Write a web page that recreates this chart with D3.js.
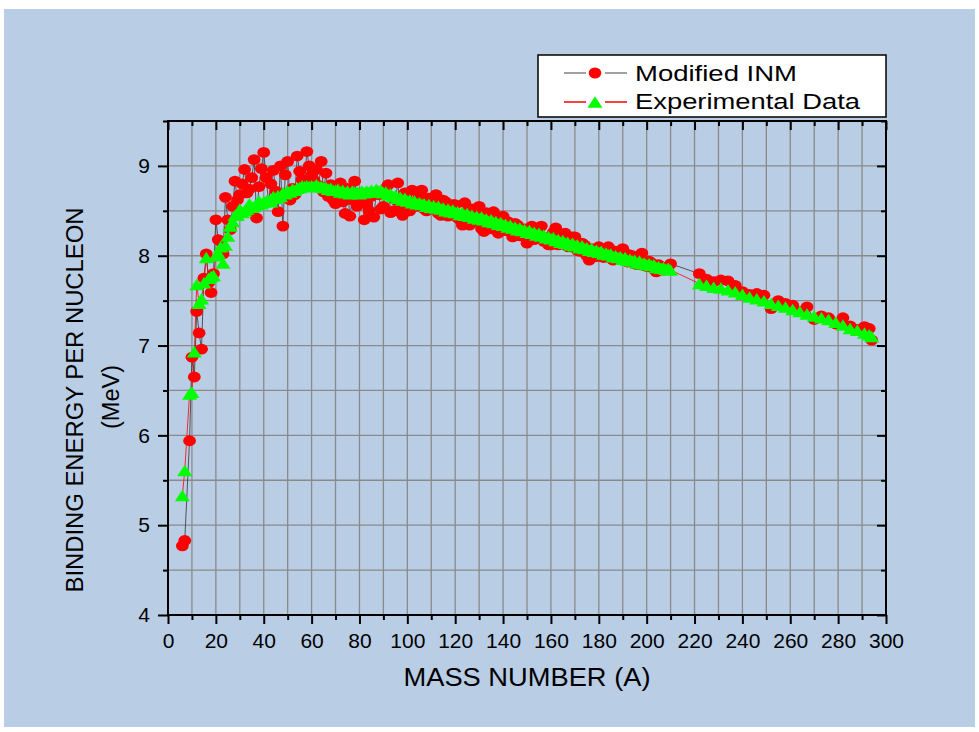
<!DOCTYPE html>
<html>
<head>
<meta charset="utf-8">
<script src="https://cdn.jsdelivr.net/npm/d3@7"></script>
<style>
body { margin: 0; background: #fff; }
text { font-family: "Liberation Sans", Arial, sans-serif; }
</style>
</head>
<body>
<script>
// mass numbers A (shared by both series)
var massNumber = [
  6, 7, 9, 10, 11, 12, 13, 14, 15, 16, 17, 18, 19, 20, 21, 22, 23,
  24, 25, 26, 27, 28, 29, 30, 31, 32, 33,
  34, 35, 36, 37, 38, 39, 40, 41, 42, 43,
  44, 45, 46, 47, 48, 49, 50, 51, 52, 53,
  54, 55, 56, 57, 58, 59, 60, 61, 62, 63,
  64, 65, 66, 67, 68, 69, 70,
  71, 72, 73, 74, 75, 76, 77, 78, 79, 80,
  81, 82, 83, 84, 85, 86, 87, 88, 89, 90,
  91, 92, 93, 94, 95, 96, 97, 98, 99, 100,
  101, 102, 103, 104, 105, 106, 107, 108, 109, 110,
  111, 112, 113, 114, 115, 116, 117, 118, 119, 120,
  121, 122, 123, 124, 125, 126, 127, 128, 129, 130,
  131, 132, 133, 134, 135, 136, 137, 138, 139, 140,
  141, 142, 143, 144, 145, 146, 147, 148, 149, 150,
  151, 152, 153, 154, 155, 156, 157, 158, 159, 160,
  161, 162, 163, 164, 165, 166, 167, 168, 169, 170,
  171, 172, 173, 174, 175, 176, 177, 178, 179, 180,
  181, 182, 183, 184, 185, 186, 187, 188, 189, 190,
  191, 192, 193, 194, 195, 196, 197, 198, 199, 200,
  201, 202, 203, 204, 205, 206, 207, 208, 209, 210,
  222, 225, 228, 231, 234, 237, 240, 243, 246, 249,
  252, 255, 258, 261, 264, 267, 270, 273, 276, 279,
  282, 285, 288, 291, 293, 294
];

// Modified INM binding energy per nucleon (MeV)
var inmBE = [
  4.77, 4.83, 5.94, 6.87, 6.65, 7.38, 7.14, 6.96, 7.75, 8.02, 7.70, 7.59, 7.80, 8.40, 8.18, 8.16, 8.02,
  8.65, 8.40, 8.29, 8.55, 8.83, 8.62, 8.68, 8.80, 8.96, 8.70,
  8.74, 8.87, 9.07, 8.42, 8.77, 8.97, 9.15, 8.87, 8.60, 8.80,
  8.95, 8.72, 8.49, 9.00, 8.33, 8.90, 9.05, 8.62, 8.75, 8.68,
  9.11, 8.94, 8.85, 8.80, 9.16, 9.00, 8.90, 8.84, 8.96, 8.78,
  9.05, 8.71, 8.92, 8.66, 8.79, 8.62, 8.58,
  8.68, 8.81, 8.60, 8.47, 8.75, 8.44, 8.62, 8.83, 8.55, 8.60,
  8.70, 8.40, 8.58, 8.50, 8.66, 8.43, 8.70, 8.68, 8.52, 8.55,
  8.75, 8.79, 8.48, 8.50, 8.62, 8.81, 8.55, 8.45, 8.70, 8.62,
  8.50, 8.73, 8.60, 8.55, 8.68, 8.73, 8.52, 8.50, 8.64, 8.62,
  8.55, 8.68, 8.47, 8.45, 8.62, 8.60, 8.44, 8.48, 8.57, 8.57,
  8.42, 8.40, 8.34, 8.59, 8.50, 8.34, 8.52, 8.50, 8.38, 8.55,
  8.30, 8.27, 8.48, 8.45, 8.30, 8.49, 8.42, 8.25, 8.40, 8.44,
  8.28, 8.38, 8.32, 8.21, 8.36, 8.34, 8.22, 8.27, 8.30, 8.14,
  8.25, 8.33, 8.18, 8.22, 8.30, 8.33, 8.16, 8.20, 8.12, 8.12,
  8.26, 8.31, 8.12, 8.15, 8.24, 8.25, 8.10, 8.10, 8.21, 8.21,
  8.06, 8.05, 8.14, 8.12, 8.00, 7.95, 8.08, 8.06, 7.99, 8.10,
  8.05, 7.98, 8.07, 8.10, 7.97, 7.95, 8.05, 8.02, 7.96, 8.08,
  8.03, 7.93, 8.01, 8.00, 7.91, 7.90, 7.98, 8.03, 7.89, 7.88,
  7.94, 7.92, 7.85, 7.82, 7.90, 7.88, 7.84, 7.85, 7.88, 7.91,
  7.80, 7.74, 7.71, 7.73, 7.72, 7.67, 7.60, 7.57, 7.58, 7.56,
  7.41, 7.50, 7.47, 7.45, 7.38, 7.43, 7.29, 7.33, 7.31, 7.24,
  7.31, 7.22, 7.18, 7.21, 7.19, 7.06
];

// experimental binding energy per nucleon (MeV)
var expBE = [
  5.33, 5.61, 6.46, 6.48, 6.93, 7.68, 7.47, 7.52, 7.70, 7.98, 7.75, 7.77, 7.78, 8.00, 8.03, 8.10, 7.92,
  8.12, 8.22, 8.33, 8.38, 8.45, 8.45, 8.52, 8.48, 8.50, 8.52,
  8.58, 8.54, 8.55, 8.57, 8.61, 8.58, 8.60, 8.61, 8.62, 8.60,
  8.66, 8.64, 8.67, 8.66, 8.70, 8.69, 8.72, 8.71, 8.74, 8.73,
  8.75, 8.76, 8.78, 8.77, 8.78, 8.77, 8.78, 8.77, 8.79, 8.77,
  8.77, 8.76, 8.76, 8.74, 8.75, 8.73, 8.73,
  8.74, 8.71, 8.73, 8.70, 8.72, 8.69, 8.72, 8.70, 8.71, 8.69,
  8.72, 8.70, 8.72, 8.71, 8.73, 8.71, 8.74, 8.72, 8.73, 8.70,
  8.71, 8.68, 8.69, 8.66, 8.67, 8.64, 8.65, 8.62, 8.64, 8.61,
  8.62, 8.59, 8.61, 8.58, 8.59, 8.57, 8.58, 8.55, 8.57, 8.54,
  8.56, 8.53, 8.55, 8.52, 8.53, 8.50, 8.52, 8.49, 8.51, 8.48,
  8.49, 8.46, 8.48, 8.45, 8.47, 8.44, 8.45, 8.42, 8.44, 8.41,
  8.43, 8.40, 8.41, 8.38, 8.40, 8.37, 8.38, 8.35, 8.37, 8.34,
  8.35, 8.32, 8.34, 8.31, 8.32, 8.29, 8.31, 8.28, 8.29, 8.26,
  8.28, 8.25, 8.26, 8.23, 8.25, 8.22, 8.23, 8.20, 8.21, 8.19,
  8.20, 8.17, 8.18, 8.15, 8.17, 8.14, 8.15, 8.12, 8.14, 8.11,
  8.12, 8.09, 8.11, 8.08, 8.09, 8.06, 8.08, 8.05, 8.06, 8.04,
  8.05, 8.02, 8.03, 8.01, 8.02, 7.99, 8.00, 7.98, 7.99, 7.96,
  7.98, 7.95, 7.96, 7.94, 7.95, 7.92, 7.94, 7.91, 7.92, 7.90,
  7.91, 7.89, 7.90, 7.87, 7.88, 7.86, 7.87, 7.85, 7.86, 7.84,
  7.69, 7.67, 7.65, 7.64, 7.62, 7.60, 7.57, 7.54, 7.52, 7.50,
  7.47, 7.45, 7.43, 7.40, 7.38, 7.35, 7.33, 7.31, 7.29, 7.26,
  7.23, 7.19, 7.17, 7.14, 7.12, 7.10
];

var xMajor = [0, 20, 40, 60, 80, 100, 120, 140, 160, 180, 200, 220, 240, 260, 280, 300];
var xMinor = [10, 30, 50, 70, 90, 110, 130, 150, 170, 190, 210, 230, 250, 270, 290];
var yMajor = [4, 5, 6, 7, 8, 9];
var yMinor = [4.5, 5.5, 6.5, 7.5, 8.5, 9.5];

var seriesNames = ["Modified INM", "Experimental Data"];

var svg = d3.select("body").append("svg")
  .attr("width", 979)
  .attr("height", 732);

// light blue page panel
svg.append("rect")
  .attr("x", 4).attr("y", 9)
  .attr("width", 971).attr("height", 718)
  .attr("fill", "#b9cde5");

var x = d3.scaleLinear().domain([0, 300]).range([168, 886]);
var y = d3.scaleLinear().domain([4, 9.5]).range([615, 121]);

// grid lines
var grid = svg.append("g");
grid.selectAll(".vgrid")
  .data(xMajor.concat(xMinor))
  .enter().append("line")
  .attr("x1", d => x(d)).attr("x2", d => x(d))
  .attr("y1", y(4)).attr("y2", y(9.5))
  .attr("stroke", "#8a8a8a").attr("stroke-width", 1.3);
grid.selectAll(".hgrid")
  .data(yMajor.concat(yMinor))
  .enter().append("line")
  .attr("x1", x(0)).attr("x2", x(300))
  .attr("y1", d => y(d)).attr("y2", d => y(d))
  .attr("stroke", "#8a8a8a").attr("stroke-width", 1.3);

var points = massNumber.map(function (a, i) {
  return { a: a, inm: inmBE[i], exp: expBE[i] };
});

// Modified INM: thin dark line + red circles
svg.append("path")
  .datum(points)
  .attr("fill", "none")
  .attr("stroke", "#333")
  .attr("stroke-width", 0.8)
  .attr("d", d3.line().x(d => x(d.a)).y(d => y(d.inm)));

svg.append("g").selectAll("ellipse")
  .data(points)
  .enter().append("ellipse")
  .attr("cx", d => x(d.a))
  .attr("cy", d => y(d.inm))
  .attr("rx", 6.4).attr("ry", 5.4)
  .attr("fill", "#ff0000");

// Experimental: red line + green triangles
svg.append("path")
  .datum(points)
  .attr("fill", "none")
  .attr("stroke", "#ff0000")
  .attr("stroke-width", 0.8)
  .attr("d", d3.line().x(d => x(d.a)).y(d => y(d.exp)));

var triW = 15, triH = 11.5;
var triPath = "M0," + (-triH / 2) + "L" + (triW / 2) + "," + (triH / 2) + "L" + (-triW / 2) + "," + (triH / 2) + "Z";

svg.append("g").selectAll("path")
  .data(points)
  .enter().append("path")
  .attr("d", triPath)
  .attr("transform", d => `translate(${x(d.a)},${y(d.exp)})`)
  .attr("fill", "#00ff00");

// axes
function styleAxis(g) {
  g.select(".domain").remove();
  g.selectAll(".tick line").attr("stroke", "#000").attr("stroke-width", 2);
  g.attr("font-family", null).attr("font-size", null);
  g.selectAll(".tick text")
    .attr("fill", "#000")
    .style("font-family", "'Liberation Sans', Arial, sans-serif")
    .style("font-size", "21px");
}

svg.append("g")
  .attr("transform", "translate(0,615)")
  .call(d3.axisBottom(x).tickValues(xMajor).tickSize(9).tickSizeOuter(0).tickPadding(9).tickFormat(d3.format("d")))
  .call(styleAxis);
svg.append("g")
  .attr("transform", "translate(0,615)")
  .call(d3.axisBottom(x).tickValues(xMinor).tickSize(5).tickSizeOuter(0).tickFormat(""))
  .call(styleAxis);

svg.append("g")
  .attr("transform", "translate(168,0)")
  .call(d3.axisLeft(y).tickValues(yMajor).tickSize(10).tickSizeOuter(0).tickPadding(8).tickFormat(d3.format("d")))
  .call(styleAxis);
svg.append("g")
  .attr("transform", "translate(168,0)")
  .call(d3.axisLeft(y).tickValues(yMinor).tickSize(5).tickSizeOuter(0).tickFormat(""))
  .call(styleAxis);

// top and right: inward ticks
svg.append("g")
  .attr("transform", "translate(0,121)")
  .call(d3.axisBottom(x).tickValues(xMajor).tickSize(9).tickSizeOuter(0).tickFormat(""))
  .call(styleAxis);
svg.append("g")
  .attr("transform", "translate(0,121)")
  .call(d3.axisBottom(x).tickValues(xMinor).tickSize(5).tickSizeOuter(0).tickFormat(""))
  .call(styleAxis);
svg.append("g")
  .attr("transform", "translate(886,0)")
  .call(d3.axisLeft(y).tickValues(yMajor).tickSize(9).tickSizeOuter(0).tickFormat(""))
  .call(styleAxis);
svg.append("g")
  .attr("transform", "translate(886,0)")
  .call(d3.axisLeft(y).tickValues(yMinor).tickSize(5).tickSizeOuter(0).tickFormat(""))
  .call(styleAxis);

// plot frame
svg.append("rect")
  .attr("x", x(0)).attr("y", y(9.5))
  .attr("width", x(300) - x(0)).attr("height", y(4) - y(9.5))
  .attr("fill", "none")
  .attr("stroke", "#000")
  .attr("stroke-width", 2);

// axis titles
svg.append("text")
  .attr("x", 527).attr("y", 686)
  .attr("text-anchor", "middle")
  .attr("font-size", 25)
  .attr("textLength", 247)
  .attr("lengthAdjust", "spacingAndGlyphs")
  .text("MASS NUMBER (A)");

svg.append("text")
  .attr("transform", "translate(83,400) rotate(-90)")
  .attr("text-anchor", "middle")
  .attr("font-size", 23.5)
  .attr("textLength", 385)
  .attr("lengthAdjust", "spacingAndGlyphs")
  .text("BINDING ENERGY PER NUCLEON");

svg.append("text")
  .attr("transform", "translate(119,397) rotate(-90)")
  .attr("text-anchor", "middle")
  .attr("font-size", 23.5)
  .text("(MeV)");

// legend
var legend = svg.append("g");
legend.append("rect")
  .attr("x", 538).attr("y", 55)
  .attr("width", 348).attr("height", 62)
  .attr("fill", "#fff")
  .attr("stroke", "#000")
  .attr("stroke-width", 1.5);

var legendRows = [
  { name: seriesNames[0], line: "#808080", cy: 73, base: 81, len: 162 },
  { name: seriesNames[1], line: "#ff0000", cy: 102, base: 109, len: 225 }
];

legendRows.forEach(function (r, i) {
  legend.append("line")
    .attr("x1", 564).attr("x2", 586).attr("y1", r.cy).attr("y2", r.cy)
    .attr("stroke", r.line).attr("stroke-width", 1.5);
  legend.append("line")
    .attr("x1", 605).attr("x2", 627).attr("y1", r.cy).attr("y2", r.cy)
    .attr("stroke", r.line).attr("stroke-width", 1.5);
  if (i === 0) {
    legend.append("ellipse")
      .attr("cx", 595).attr("cy", r.cy)
      .attr("rx", 6.3).attr("ry", 5.5)
      .attr("fill", "#ff0000");
  } else {
    legend.append("path")
      .attr("d", triPath)
      .attr("transform", `translate(595,${r.cy})`)
      .attr("fill", "#00ff00");
  }
  legend.append("text")
    .attr("x", 635).attr("y", r.base)
    .attr("font-size", 22)
    .attr("textLength", r.len)
    .attr("lengthAdjust", "spacingAndGlyphs")
    .text(r.name);
});
</script>
</body>
</html>
